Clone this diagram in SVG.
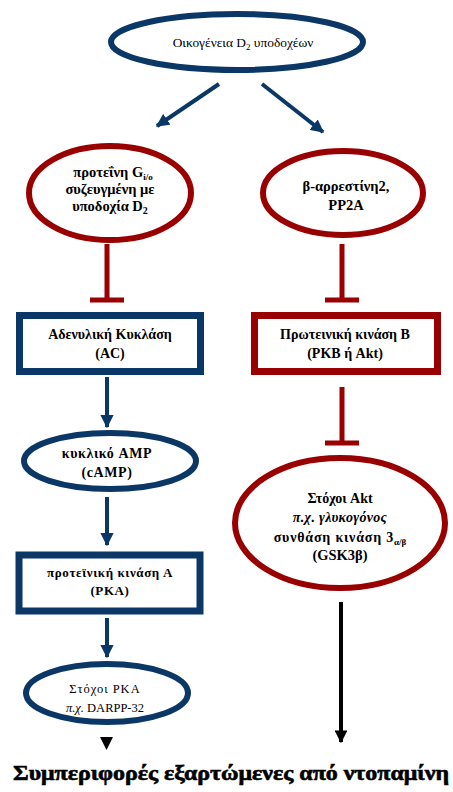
<svg xmlns="http://www.w3.org/2000/svg" width="453" height="792" viewBox="0 0 453 792">
<style>
  .t { font-family: "Liberation Serif", "Times New Roman", serif; fill: #000; text-anchor: middle; }
  .b { font-weight: bold; }
  .navyE { fill: #fff; stroke: #0b3766; stroke-width: 6; }
  .redE { fill: #fff; stroke: #990000; stroke-width: 6; }
  .navyR { fill: #fff; stroke: #0b3766; stroke-width: 7; }
  .redR { fill: #fff; stroke: #990000; stroke-width: 7; }
  .na { stroke: #0b3766; stroke-width: 4; fill: none; marker-end: url(#ahN); }
  .inh { stroke: #990000; stroke-width: 5; fill: none; }
  .blk { stroke: #000; stroke-width: 4; fill: none; marker-end: url(#ahK); }
</style>
<defs>
  <marker id="ahN" viewBox="0 0 10 10" refX="9" refY="5" markerWidth="3.3" markerHeight="3.3" orient="auto" markerUnits="strokeWidth">
    <path d="M0,0 L10,5 L0,10 z" fill="#0b3766"/>
  </marker>
  <marker id="ahK" viewBox="0 0 10 10" refX="9" refY="5" markerWidth="3.2" markerHeight="3.2" orient="auto" markerUnits="strokeWidth">
    <path d="M0,0 L10,5 L0,10 z" fill="#000"/>
  </marker>
</defs>
<rect width="453" height="792" fill="#fff"/>

<g id="connectors">
  <line class="na" x1="219" y1="84" x2="157" y2="126"/>
  <line class="na" x1="262" y1="84" x2="323" y2="132"/>
  <path class="inh" d="M107,244 V300 M90,300 H124"/>
  <path class="inh" d="M342,244 V300 M325,300 H359"/>
  <path class="inh" d="M342,387 V443 M325,443 H359"/>
  <line class="na" x1="107" y1="377" x2="107" y2="427"/>
  <line class="na" x1="107" y1="497" x2="107" y2="545"/>
  <line class="na" x1="107" y1="618" x2="107" y2="657"/>
  <line class="blk" x1="341" y1="602" x2="341" y2="742"/>
  <path d="M100,737 L113,737 L106.5,750 z" fill="#000"/>
</g>

<g id="d2family">
  <ellipse class="navyE" cx="237" cy="42" rx="126" ry="28"/>
  <text class="t" x="243" y="47" font-size="13.4">Οικογένεια D<tspan font-size="9" dy="3">2</tspan><tspan dy="-3"> υποδοχέων</tspan></text>
</g>

<g id="gprotein">
  <ellipse class="redE" cx="110" cy="193" rx="81" ry="47"/>
  <text class="t b" x="113" y="177" font-size="14.5">προτεΐνη G<tspan font-size="9" dy="3">i/o</tspan></text>
  <text class="t b" x="110" y="194" font-size="14.5">συζευγμένη με</text>
  <text class="t b" x="110" y="211" font-size="14.5">υποδοχία D<tspan font-size="10" dy="3">2</tspan></text>
</g>

<g id="arrestin">
  <ellipse class="redE" cx="343" cy="193" rx="80" ry="42"/>
  <text class="t b" x="346" y="191" font-size="14.5">β-αρρεστίνη2,</text>
  <text class="t b" x="346" y="210" font-size="14.5">PP2A</text>
</g>

<g id="ac">
  <rect class="navyR" x="19.5" y="315.5" width="181" height="56"/>
  <text class="t b" x="110" y="339" font-size="14">Αδενυλική Κυκλάση</text>
  <text class="t b" x="110" y="358" font-size="14">(AC)</text>
</g>

<g id="pkb">
  <rect class="redR" x="254.5" y="315.5" width="183" height="56"/>
  <text class="t b" x="345" y="339" font-size="14">Πρωτεινική κινάση Β</text>
  <text class="t b" x="345" y="358" font-size="14">(PKB ή Akt)</text>
</g>

<g id="camp">
  <ellipse class="navyE" cx="110" cy="461" rx="86" ry="28" stroke-width="7"/>
  <text class="t b" x="107" y="458" font-size="14" letter-spacing="0.6">κυκλικό AMP</text>
  <text class="t b" x="107" y="477" font-size="14" letter-spacing="0.6">(cAMP)</text>
</g>

<g id="pka">
  <rect class="navyR" x="19" y="555" width="181" height="56" stroke-width="8"/>
  <text class="t b" x="110" y="577" font-size="13" letter-spacing="0.6">προτεϊνική κινάση Α</text>
  <text class="t b" x="110" y="595" font-size="13" letter-spacing="0.6">(PKA)</text>
</g>

<g id="pkatargets">
  <ellipse class="navyE" cx="107" cy="693" rx="81" ry="29" stroke-width="7"/>
  <text class="t" x="105" y="693" font-size="12.5" letter-spacing="1">Στόχοι PKA</text>
  <text class="t" x="105" y="712" font-size="12.5"><tspan font-style="italic">π.χ.</tspan> DARPP-32</text>
</g>

<g id="akttargets">
  <ellipse class="redE" cx="340" cy="523" rx="105" ry="65" stroke-width="8"/>
  <text class="t b" x="340" y="503" font-size="14">Στόχοι Akt</text>
  <text class="t b" x="340" y="522" font-size="14" font-style="italic" letter-spacing="0.3">π.χ. γλυκογόνος</text>
  <text class="t b" x="340" y="542" font-size="14" letter-spacing="0.8">συνθάση κινάση 3<tspan font-size="9" dy="3" letter-spacing="0">α/β</tspan></text>
  <text class="t b" x="340" y="560" font-size="14.5">(GSK3β)</text>
</g>

<g id="behaviours">
  <text class="t b" x="231" y="780" font-size="21" stroke="#000" stroke-width="0.6" textLength="436" lengthAdjust="spacingAndGlyphs">Συμπεριφορές εξαρτώμενες από ντοπαμίνη</text>
</g>
</svg>
